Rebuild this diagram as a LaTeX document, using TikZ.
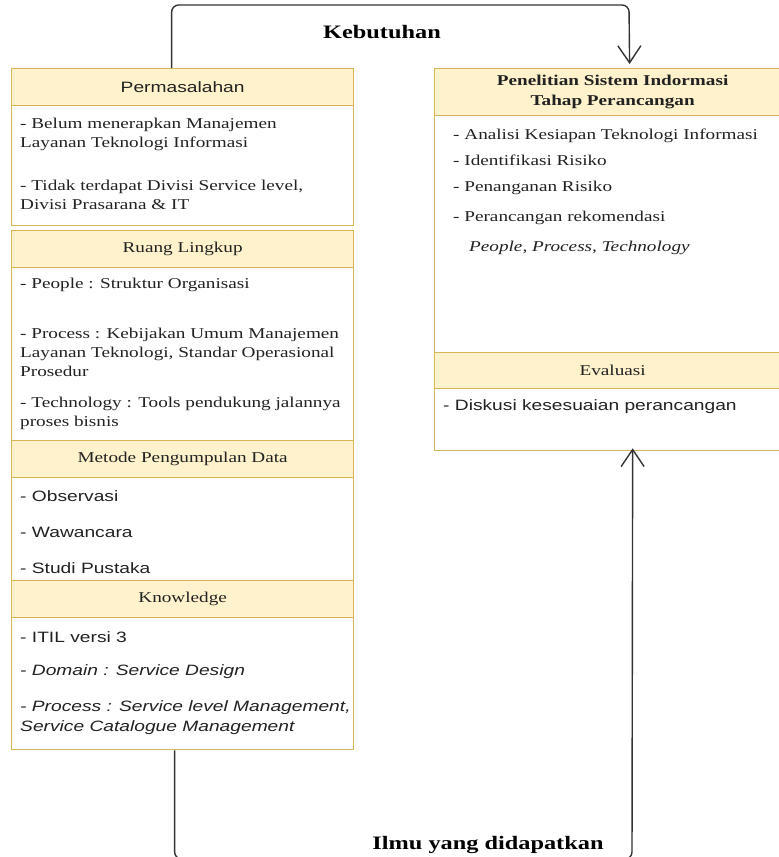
\documentclass[tikz,border=0pt]{standalone}
\usepackage{fontspec}
\setmainfont{Liberation Serif}[FakeStretch=1.28]
\newfontfamily\arialf{Liberation Sans}[FakeStretch=1.28]
\usetikzlibrary{arrows.meta}

\definecolor{hdrfill}{HTML}{FFF2CC}
\definecolor{hdrline}{HTML}{D6B656}
\definecolor{txt}{HTML}{222222}
\definecolor{linkc}{HTML}{333333}

\tikzset{
	hdr/.style={draw=hdrline, fill=hdrfill, line width=1.3pt, anchor=north west, minimum width=342pt, minimum height=37pt, inner sep=0pt, text=txt, font=\fontsize{15}{19}\selectfont},
	bodybox/.style={draw=hdrline, fill=white, line width=1.3pt, anchor=north west, minimum width=342pt, inner sep=0pt},
	item/.style={anchor=west, align=left, inner sep=0pt, text=txt, font=\fontsize{15}{19}\selectfont},
	sitem/.style={item, font=\arialf\fontsize{15}{20}\selectfont},
	link/.style={draw=linkc, line width=1.4pt, rounded corners=7pt, -{Straight Barb[length=17pt,width=23pt]}},
	lbl/.style={font=\bfseries\fontsize{19}{22}\selectfont, text=black, inner sep=0pt}
}

\begin{document}
\begin{tikzpicture}[x=1pt, y={(0pt,-1pt)}]
	\useasboundingbox (0,0) rectangle (779,857);
	
	% left column
	\node [bodybox, minimum height=121pt] (permbody) at (11,104) {};
	\node [hdr, font=\arialf\fontsize{15}{19}\selectfont] (perm) at (11,68) {Permasalahan};
	\node [item] (perm1) at (20,134) {- Belum menerapkan Manajemen\\Layanan Teknologi Informasi};
	\node [item] (perm2) at (20,195) {- Tidak terdapat Divisi Service level,\\Divisi Prasarana \& IT};
	
	\node [bodybox, minimum height=174pt] (ruangbody) at (11,266) {};
	\node [hdr] (ruang) at (11,230) {Ruang Lingkup};
	\node [item] (ruang1) at (20,285) {- People : Struktur Organisasi};
	\node [item] (ruang2) at (20,352) {- Process : Kebijakan Umum Manajemen\\Layanan Teknologi, Standar Operasional\\Prosedur};
	\node [item] (ruang3) at (20,413) {- Technology : Tools pendukung jalannya\\proses bisnis};
	
	\node [bodybox, minimum height=103pt] (metodebody) at (11,477) {};
	\node [hdr] (metode) at (11,440) {Metode Pengumpulan Data};
	\node [sitem] (metode1) at (20,496) {- Observasi};
	\node [sitem] (metode2) at (20,532) {- Wawancara};
	\node [sitem] (metode3) at (20,568) {- Studi Pustaka};
	
	\node [bodybox, minimum height=132pt] (knowbody) at (11,617) {};
	\node [hdr] (know) at (11,580) {Knowledge};
	\node [sitem] (know1) at (20,637) {- ITIL versi 3};
	\node [sitem] (know2) at (20,672) {\itshape - Domain : Service Design};
	\begin{scope}
		\clip (knowbody.north west) rectangle (knowbody.south east);
		\node [sitem] (know3) at (20,718) {\itshape - Process : Service level Management,\\\itshape Service Catalogue Management};
	\end{scope}
	
	% right column
	\node [bodybox, minimum width=356pt, minimum height=237pt] (telitibody) at (434,115) {};
	\node [hdr, minimum width=356pt, minimum height=47pt, align=center, font=\bfseries\fontsize{15}{20}\selectfont] (teliti) at (434,68) {Penelitian Sistem Indormasi\\Tahap Perancangan};
	\node [item] (teliti1) at (453,136) {- Analisi Kesiapan Teknologi Informasi};
	\node [item] (teliti2) at (453,160) {- Identifikasi Risiko};
	\node [item] (teliti3) at (453,188) {- Penanganan Risiko};
	\node [item] (teliti4) at (453,218) {- Perancangan rekomendasi};
	\node [item] (teliti5) at (469,248) {\itshape People, Process, Technology};
	
	\node [bodybox, minimum width=356pt, minimum height=62pt] (evalbody) at (434,388) {};
	\node [hdr, minimum width=356pt, minimum height=36pt] (eval) at (434,352) {Evaluasi};
	\node [sitem] (eval1) at (443,407) {- Diskusi kesesuaian perancangan};
	
	% connectors
	\draw [link, shorten >=4pt] ([xshift=-11pt]perm.north) |- (629,5) -- ([xshift=17pt]teliti.north);
	\node [lbl] (kebutuhan) at (382,32) {Kebutuhan};
	
	\draw [link, shorten >=-3pt] ([xshift=-8pt]knowbody.south) |- (632,859) -- ([xshift=20pt]evalbody.south);
	\node [lbl] (ilmu) at (488,845) {Ilmu yang didapatkan};
	
\end{tikzpicture}
\end{document}
